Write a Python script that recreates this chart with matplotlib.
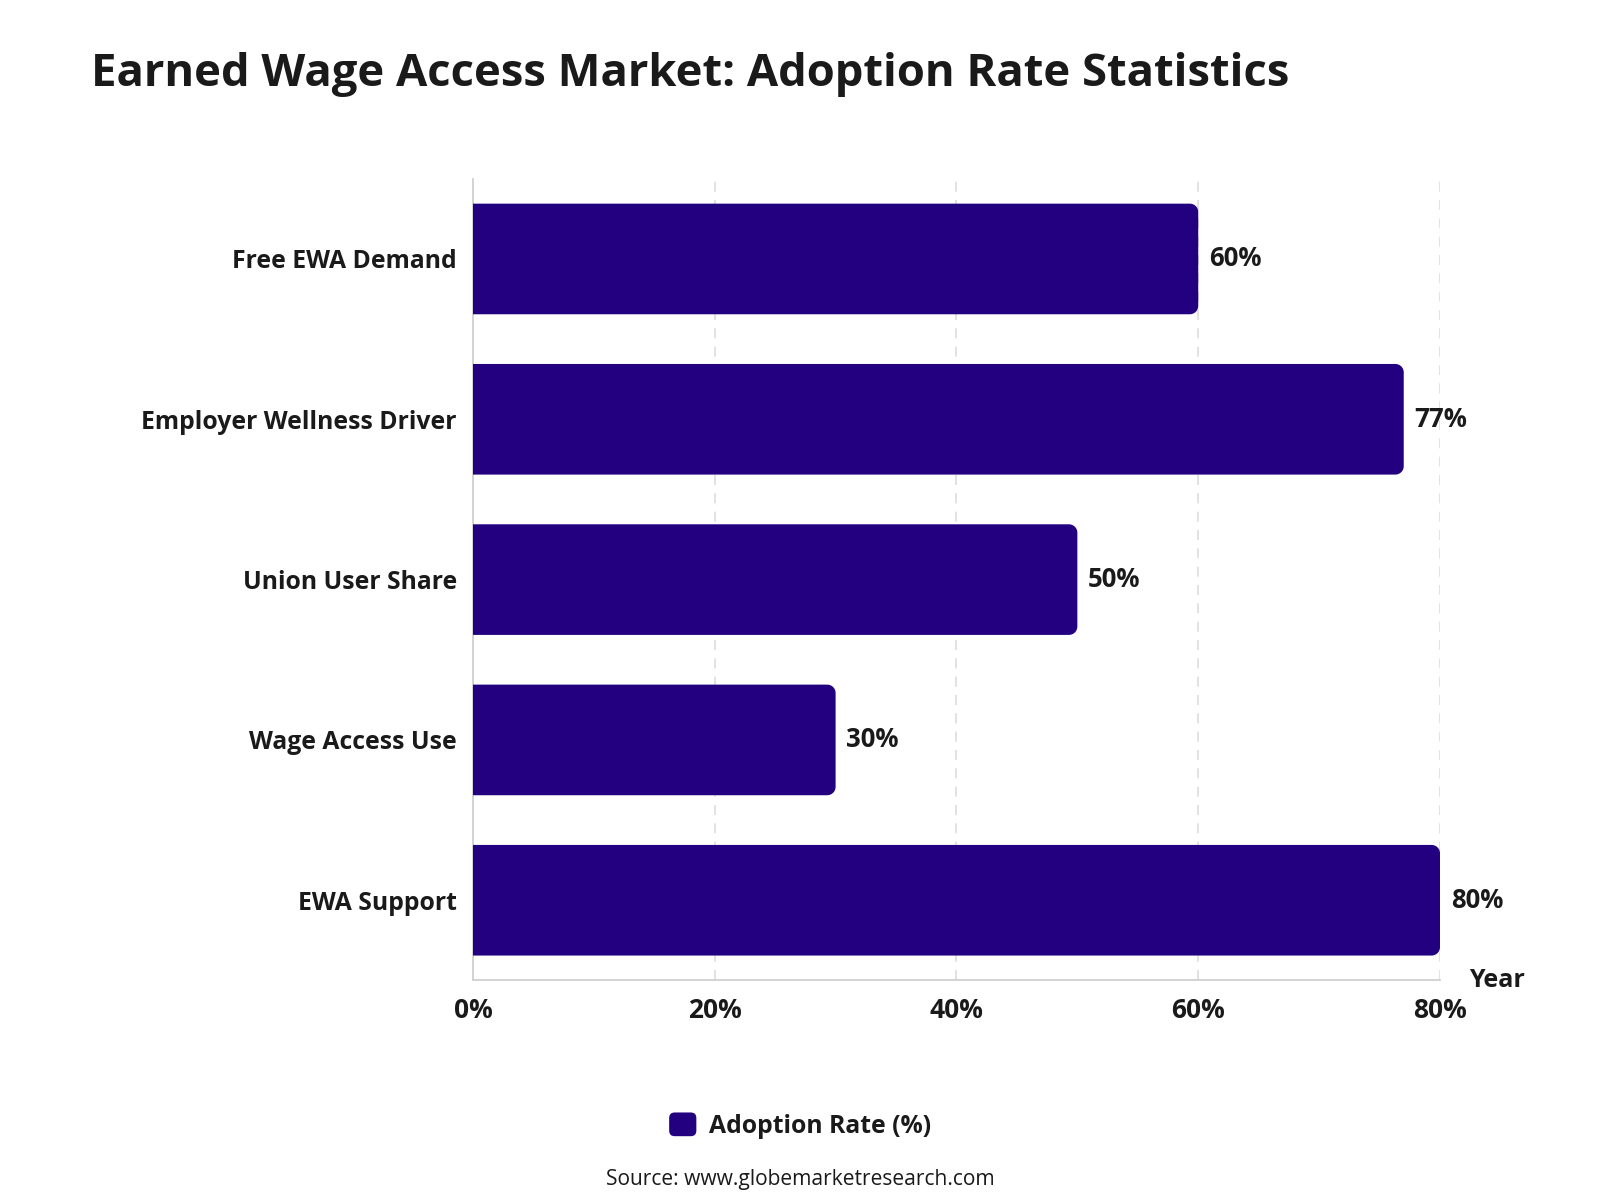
import numpy as np
import matplotlib
matplotlib.use('Agg')
from matplotlib import pyplot as plt
from matplotlib.patches import PathPatch, Patch, FancyBboxPatch
from matplotlib.path import Path
from matplotlib.legend_handler import HandlerPatch

categories = ['Free EWA Demand', 'Employer Wellness Driver', 'Union User Share',
              'Wage Access Use', 'EWA Support']
adoption = [60, 77, 50, 30, 80]
xticks = [0, 20, 40, 60, 80]
xtick_labels = ['0%', '20%', '40%', '60%', '80%']

BAR = '#220080'
TXT = '#1a1a1a'

plt.rcParams['font.family'] = ['Open Sans', 'DejaVu Sans']


def right_rounded(x, y, w, h, rx, ry):
    # rectangle with only the right-hand corners rounded
    t = np.linspace(0, np.pi / 2, 12)
    pts = [(x, y)]
    pts += [(x + w - rx + rx * np.sin(a), y + ry - ry * np.cos(a)) for a in t]
    pts += [(x + w - rx + rx * np.cos(a), y + h - ry + ry * np.sin(a)) for a in t]
    pts += [(x, y + h), (x, y)]
    codes = [Path.MOVETO] + [Path.LINETO] * (len(pts) - 2) + [Path.CLOSEPOLY]
    return Path(pts, codes)


fig = plt.figure(figsize=(16, 12), dpi=100)
ax = fig.add_axes([0.2956, 0.183, 0.6044, 0.668])

bars = ax.barh(range(len(categories)), adoption, height=0.69, color=BAR)
for rect in bars:
    x, y = rect.get_x(), rect.get_y()
    w, h = rect.get_width(), rect.get_height()
    rect.set_visible(False)
    ax.add_patch(PathPatch(right_rounded(x, y, w, h, 0.7, 0.052),
                           facecolor=BAR, edgecolor='none', zorder=3))
    ax.text(w + 0.9, y + h / 2, f'{w:.0f}%', va='center', ha='left',
            fontsize=18.5, fontweight='bold', color=TXT, zorder=4)

ax.set_xlim(0, 80)
ax.set_ylim(4.5, -0.5)
ax.set_yticks(range(len(categories)))
ax.set_yticklabels(categories, fontsize=17.8, fontweight='bold', color=TXT)
ax.set_xticks(xticks)
ax.set_xticklabels(xtick_labels, fontsize=19, fontweight='bold', color=TXT)
ax.tick_params(length=0, pad=12)
ax.tick_params(axis='y', pad=11.5)

for v in xticks[1:]:
    ax.axvline(v, color='#dddddd', linestyle=(0, (6, 5)), linewidth=1.2, zorder=1)

for s in ['top', 'right']:
    ax.spines[s].set_visible(False)
for s in ['left', 'bottom']:
    ax.spines[s].set_color('#cccccc')
    ax.spines[s].set_linewidth(1.2)

ax.text(1.03, 0.0, 'Year', transform=ax.transAxes, ha='left', va='center',
        fontsize=18, fontweight='bold', color=TXT)

fig.text(0.057, 0.938, 'Earned Wage Access Market: Adoption Rate Statistics',
         fontsize=32.7, fontweight='bold', color=TXT, va='center', ha='left')


def rounded_handle(legend, orig_handle, xdescent, ydescent, width, height, fontsize):
    return FancyBboxPatch((-xdescent, -ydescent), width, height,
                          boxstyle='round,pad=0,rounding_size=4')


leg = fig.legend(handles=[Patch(facecolor=BAR, edgecolor='none', label='Adoption Rate (%)')],
                 loc='center', bbox_to_anchor=(0.5, 0.062), frameon=False,
                 prop={'size': 17.8, 'weight': 'bold'}, handlelength=1.1,
                 handleheight=1.1, handletextpad=0.5,
                 handler_map={Patch: HandlerPatch(patch_func=rounded_handle)})
for t in leg.get_texts():
    t.set_color(TXT)

fig.text(0.5, 0.017, 'Source: www.globemarketresearch.com', ha='center', va='center',
         fontsize=15.1, color=TXT)

fig.savefig('out.png', dpi=100, facecolor='white')
